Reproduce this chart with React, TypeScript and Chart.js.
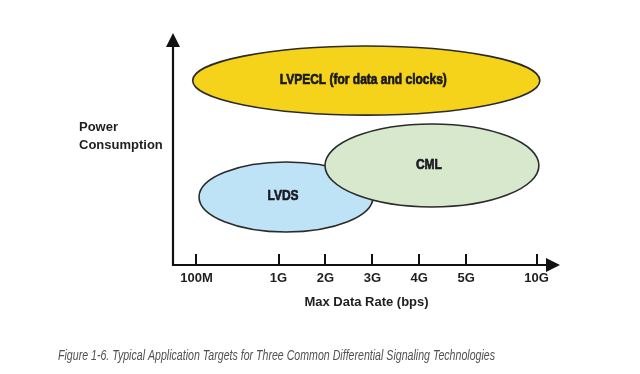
import React, { useEffect, useRef } from "react";
import { Chart, registerables } from "chart.js";

Chart.register(...registerables);

// Axis ticks (x positions in axis units, with labels)
const tickValues = [0, 1.75, 2.75, 3.75, 4.75, 5.75, 7.25];
const tickLabels = ["100M", "1G", "2G", "3G", "4G", "5G", "10G"];

// Technology regions (ellipses in axis units)
const regionNames = ["LVPECL (for data and clocks)", "LVDS", "CML"];
const regionCenterX = [3.62, 1.91, 5.02];
const regionCenterY = [7.95, 2.93, 4.29];
const regionRadiusX = [3.7, 1.855, 2.28];
const regionRadiusY = [1.49, 1.51, 1.79];
const regionColors = ["#F6D31B", "#BFE3F6", "#D7E8CC"];

const xTitle = "Max Data Rate (bps)";
const yTitle = ["Power", "Consumption"];
const caption =
  "Figure 1-6. Typical Application Targets for Three Common Differential Signaling Technologies";

const FONT = "'Liberation Sans', Arial, sans-serif";

const diagramPlugin = {
  id: "diagram",
  beforeDatasetsDraw(chart: any) {
    const { ctx, scales } = chart;
    const xs = scales.x;
    const ys = scales.y;
    ctx.save();
    for (let i = 0; i < regionNames.length; i++) {
      const cx = xs.getPixelForValue(regionCenterX[i]);
      const cy = ys.getPixelForValue(regionCenterY[i]);
      const rx = Math.abs(xs.getPixelForValue(regionCenterX[i] + regionRadiusX[i]) - cx);
      const ry = Math.abs(ys.getPixelForValue(regionCenterY[i] + regionRadiusY[i]) - cy);
      ctx.beginPath();
      ctx.ellipse(cx, cy, rx, ry, 0, 0, Math.PI * 2);
      ctx.fillStyle = regionColors[i];
      ctx.fill();
      ctx.lineWidth = 1.6;
      ctx.strokeStyle = "#2b2b2b";
      ctx.stroke();
      ctx.save();
      ctx.translate(cx - 3, cy - 1);
      ctx.scale(0.8, 1);
      ctx.font = `bold 15px ${FONT}`;
      ctx.fillStyle = "#1a1a22";
      ctx.strokeStyle = "#1a1a22";
      ctx.lineWidth = 0.7;
      ctx.textAlign = "center";
      ctx.textBaseline = "middle";
      ctx.fillText(regionNames[i], 0, 0);
      ctx.strokeText(regionNames[i], 0, 0);
      ctx.restore();
    }
    ctx.restore();
  },
  afterDraw(chart: any) {
    const { ctx, chartArea, scales } = chart;
    const xs = scales.x;
    const left = chartArea.left;
    const bottom = chartArea.bottom;
    const top = chartArea.top;
    const right = chartArea.right;
    ctx.save();
    ctx.strokeStyle = "#111";
    ctx.fillStyle = "#111";
    ctx.lineWidth = 2.2;
    ctx.beginPath();
    ctx.moveTo(left, bottom + 1);
    ctx.lineTo(left, top + 12);
    ctx.stroke();
    ctx.beginPath();
    ctx.moveTo(left, top);
    ctx.lineTo(left - 7, top + 14);
    ctx.lineTo(left + 7, top + 14);
    ctx.closePath();
    ctx.fill();
    ctx.beginPath();
    ctx.moveTo(left - 1, bottom);
    ctx.lineTo(right - 12, bottom);
    ctx.stroke();
    ctx.beginPath();
    ctx.moveTo(right, bottom);
    ctx.lineTo(right - 14, bottom - 7);
    ctx.lineTo(right - 14, bottom + 7);
    ctx.closePath();
    ctx.fill();
    ctx.lineWidth = 2;
    for (const v of tickValues) {
      const px = Math.round(xs.getPixelForValue(v));
      ctx.beginPath();
      ctx.moveTo(px, bottom);
      ctx.lineTo(px, bottom - 11);
      ctx.stroke();
    }
    ctx.font = `bold 13px ${FONT}`;
    ctx.fillStyle = "#1e1e1e";
    ctx.textAlign = "left";
    ctx.textBaseline = "middle";
    ctx.fillText(yTitle[0], 79, 127);
    ctx.fillText(yTitle[1], 79, 145);
    ctx.font = `italic 14px ${FONT}`;
    ctx.fillStyle = "#505050";
    const w = ctx.measureText(caption).width;
    ctx.save();
    ctx.translate(58, 356);
    ctx.scale(437 / w, 1);
    ctx.textAlign = "left";
    ctx.textBaseline = "middle";
    ctx.fillText(caption, 0, 0);
    ctx.restore();
    ctx.restore();
  },
};

export default function App() {
  const canvasRef = useRef<HTMLCanvasElement | null>(null);

  useEffect(() => {
    if (!canvasRef.current) return;
    const chart = new Chart(canvasRef.current, {
      type: "scatter",
      data: {
        datasets: [
          {
            label: "centers",
            data: regionCenterX.map((x, i) => ({ x, y: regionCenterY[i] })),
            pointRadius: 0,
            pointHoverRadius: 0,
          },
        ],
      },
      options: {
        animation: false,
        responsive: true,
        maintainAspectRatio: false,
        layout: { padding: { left: 173, right: 80, top: 33, bottom: 0 } },
        plugins: {
          legend: { display: false },
          tooltip: { enabled: false },
          title: { display: false },
        },
        events: [],
        scales: {
          x: {
            type: "linear",
            min: -0.5,
            max: 7.75,
            grid: { display: false },
            border: { display: false },
            afterBuildTicks: (scale: any) => {
              scale.ticks = tickValues.map((v) => ({ value: v }));
            },
            afterFit: (scale: any) => {
              scale.height = 109;
            },
            ticks: {
              autoSkip: false,
              maxRotation: 0,
              padding: -2,
              color: "#1e1e1e",
              font: { family: FONT, size: 13, weight: "bold" },
              callback: (v: any) => {
                const idx = tickValues.indexOf(Number(v));
                return idx >= 0 ? tickLabels[idx] : "";
              },
            },
            title: {
              display: true,
              text: xTitle,
              color: "#1e1e1e",
              font: { family: FONT, size: 13, weight: "bold" },
              padding: { top: 0, bottom: 64 },
            },
          },
          y: {
            type: "linear",
            min: 0,
            max: 10,
            display: false,
          },
        },
      },
      plugins: [diagramPlugin],
    });
    return () => chart.destroy();
  }, []);

  return (
    <div style={{ position: "absolute", left: 0, top: 0, width: 640, height: 374, background: "#fff" }}>
      <canvas ref={canvasRef} />
    </div>
  );
}
